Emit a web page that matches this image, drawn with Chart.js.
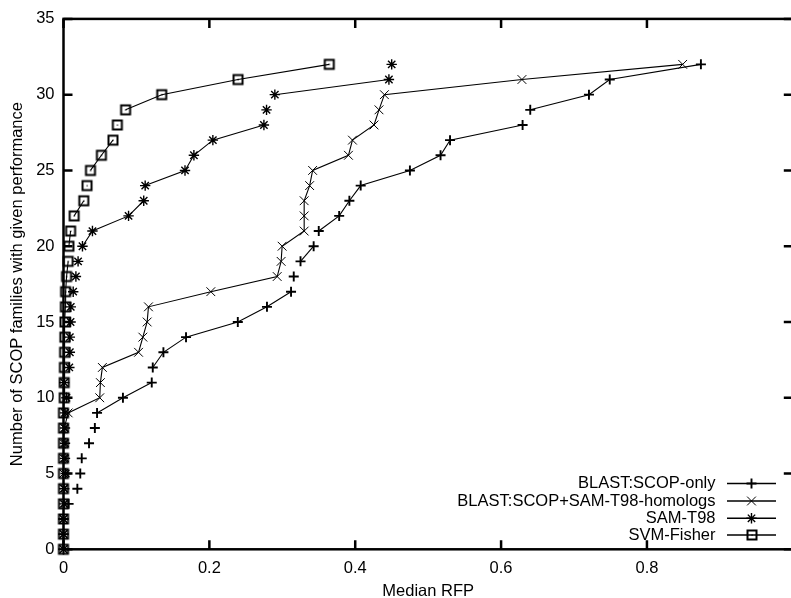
<!DOCTYPE html>
<html>
<head>
<meta charset="utf-8">
<script src="https://cdn.jsdelivr.net/npm/chart.js@4/dist/chart.umd.min.js"></script>
<style>
  html, body { margin: 0; padding: 0; background: #fff; overflow: hidden; width: 791px; height: 598px; }
  canvas { display: block; }
</style>
</head>
<body>
<canvas id="c" width="800" height="598"></canvas>
<script>
// ---------------- data ----------------
const families = [0,1,2,3,4,5,6,7,8,9,10,11,12,13,14,15,16,17,18,19,20,21,22,23,24,25,26,27,28,29,30,31,32];

const blastScopOnly = [0,0,0,0.007,0.019,0.023,0.025,0.035,0.043,0.046,0.0815,0.121,0.1224,0.137,0.168,0.239,0.279,0.312,0.3157,0.325,0.343,0.350,0.378,0.392,0.4075,0.475,0.517,0.530,0.6295,0.640,0.7205,0.749,0.874];
const blastScopSamHomologs = [0,0,0,0,0,0,0,0,0.001,0.0064,0.0497,0.0506,0.0533,0.1029,0.1088,0.1147,0.1165,0.202,0.293,0.2984,0.2998,0.330,0.330,0.330,0.3375,0.3416,0.3907,0.3962,0.4258,0.4326,0.440,0.6286,0.849];
const samT98 = [0,0,0,0.001,0.001,0.003,0.002,0.002,0.002,0.002,0.004,0.001,0.008,0.0087,0.0087,0.0097,0.010,0.0133,0.017,0.020,0.026,0.0397,0.0892,0.110,0.112,0.1666,0.1788,0.2048,0.2748,0.2784,0.2898,0.4462,0.450];
const svmFisher = [0,0,0,0,0,0,0,0,0,0,0.001,0.001,0.0012,0.0015,0.0018,0.002,0.0026,0.0029,0.0042,0.0064,0.0074,0.0097,0.0146,0.0278,0.0323,0.037,0.052,0.0678,0.0738,0.0851,0.1347,0.2393,0.3644];

// segments (start index) that are not joined by a line in the original
const blastScopOnlyGaps = [2,3,4,5,6,7,8,11,17,18,20,28];
const blastScopSamHomologsGaps = [];
const samT98Gaps = [0,1,2,3,4,5,6,7,8,9,10,11,12,13,14,15,16,17,18,19,23,28,29,31];
const svmFisherGaps = [19,21,23,24,27,28];

const seriesLabels = ['BLAST:SCOP-only','BLAST:SCOP+SAM-T98-homologs','SAM-T98','SVM-Fisher'];
const xTicks = [0, 0.2, 0.4, 0.6, 0.8];
const yTicks = [0, 5, 10, 15, 20, 25, 30, 35];
const xTitle = 'Median RFP';
const yTitle = 'Number of SCOP families with given performance';

// ---------------- styling ----------------
const FONT = { family: '"Liberation Sans", Arial, Helvetica, sans-serif', size: 16.5 };

function squareMarker() {
  const c = document.createElement('canvas');
  c.width = 14; c.height = 14;
  const g = c.getContext('2d');
  g.strokeStyle = '#000'; g.lineWidth = 2;
  g.strokeRect(2.5, 2.5, 9, 9);
  g.fillStyle = '#000';
  g.fillRect(6.5, 6.5, 1.2, 1.2);
  return c;
}
const sq = squareMarker();

function mk(values, gaps, label, style, radius, bw) {
  return {
    label: label,
    data: families.map((f, i) => ({ x: values[i], y: f })),
    showLine: true,
    borderColor: '#000',
    borderWidth: 1.1,
    pointStyle: style,
    pointRadius: radius,
    pointBorderWidth: bw,
    pointBorderColor: '#000',
    pointBackgroundColor: 'rgba(0,0,0,0)',
    pointHoverRadius: radius,
    clip: false,
    segment: {
      borderColor: c => gaps.includes(c.p0DataIndex) ? 'rgba(0,0,0,0)' : '#000'
    }
  };
}

const datasets = [
  mk(blastScopOnly, blastScopOnlyGaps, seriesLabels[0], 'cross', 5, 1.9),
  mk(blastScopSamHomologs, blastScopSamHomologsGaps, seriesLabels[1], 'crossRot', 6.2, 1),
  mk(samT98, samT98Gaps, seriesLabels[2], 'star', 5.2, 1.4),
  mk(svmFisher, svmFisherGaps, seriesLabels[3], sq, 6, 1)
];

function drawMarker(ctx, style, x, y, r, bw) {
  ctx.save();
  ctx.strokeStyle = '#000';
  ctx.lineWidth = bw;
  if (typeof style === 'object') {
    ctx.drawImage(style, Math.round(x) - style.width / 2, Math.round(y) - style.height / 2);
    ctx.restore();
    return;
  }
  ctx.beginPath();
  if (style === 'cross' || style === 'star') {
    ctx.moveTo(x - r, y); ctx.lineTo(x + r, y);
    ctx.moveTo(x, y - r); ctx.lineTo(x, y + r);
  }
  if (style === 'crossRot' || style === 'star') {
    const d = r * Math.SQRT1_2;
    ctx.moveTo(x - d, y - d); ctx.lineTo(x + d, y + d);
    ctx.moveTo(x - d, y + d); ctx.lineTo(x + d, y - d);
  }
  ctx.stroke();
  ctx.restore();
}

const framePlugin = {
  id: 'frame',
  afterDatasetsDraw(chart) {
    const { ctx, chartArea: a, scales } = chart;
    ctx.save();
    ctx.strokeStyle = '#000';
    ctx.lineWidth = 2.5;
    ctx.strokeRect(a.left, a.top, a.right - a.left, a.bottom - a.top);
    const tl = 9;
    ctx.beginPath();
    xTicks.forEach(v => {
      const px = scales.x.getPixelForValue(v);
      ctx.moveTo(px, a.bottom); ctx.lineTo(px, a.bottom - tl);
      ctx.moveTo(px, a.top); ctx.lineTo(px, a.top + tl);
    });
    yTicks.forEach(v => {
      const py = scales.y.getPixelForValue(v);
      ctx.moveTo(a.left, py); ctx.lineTo(a.left + tl, py);
      ctx.moveTo(a.right, py); ctx.lineTo(a.right - tl, py);
    });
    ctx.stroke();
    ctx.restore();
  }
};

const legendPlugin = {
  id: 'innerLegend',
  afterDraw(chart) {
    const { ctx } = chart;
    const rows = [483.5, 501, 518.3, 535];
    const textRight = 715.5, lineL = 727, lineR = 776, mid = 751.5;
    ctx.save();
    ctx.font = FONT.size + 'px ' + FONT.family;
    ctx.fillStyle = '#000';
    ctx.textAlign = 'right';
    ctx.textBaseline = 'middle';
    chart.data.datasets.forEach((ds, i) => {
      const y = rows[i];
      ctx.fillText(ds.label, textRight, y);
      ctx.strokeStyle = '#000';
      ctx.lineWidth = 1.4;
      ctx.beginPath();
      ctx.moveTo(lineL, y); ctx.lineTo(lineR, y);
      ctx.stroke();
      drawMarker(ctx, ds.pointStyle, mid, y, ds.pointRadius, ds.pointBorderWidth);
    });
    ctx.restore();
  }
};

new Chart(document.getElementById('c').getContext('2d'), {
  type: 'scatter',
  data: { datasets: datasets },
  options: {
    responsive: false,
    animation: false,
    events: [],
    layout: { padding: { left: 0, right: 3.5, top: 17.3, bottom: 0 } },
    plugins: { legend: { display: false }, tooltip: { enabled: false } },
    scales: {
      x: {
        type: 'linear', min: 0, max: 1,
        afterFit: s => { s.height = 48.7; },
        afterBuildTicks: s => { s.ticks = xTicks.map(v => ({ value: v })); },
        grid: { display: false, drawTicks: false },
        border: { display: false },
        ticks: { padding: 9, color: '#000', font: FONT, maxRotation: 0, callback: v => String(v) },
        title: { display: true, text: xTitle, color: '#000', font: Object.assign({ lineHeight: 0.8 }, FONT), padding: { top: 0, bottom: 0 } }
      },
      y: {
        type: 'linear', min: 0, max: 35,
        afterFit: s => { s.width = 63.5; },
        afterBuildTicks: s => { s.ticks = yTicks.map(v => ({ value: v })); },
        grid: { display: false, drawTicks: false },
        border: { display: false },
        ticks: { padding: 9, color: '#000', font: FONT, callback: v => String(v) },
        title: { display: true, text: yTitle, color: '#000', font: FONT, padding: { top: 7.3, bottom: 0 } }
      }
    }
  },
  plugins: [framePlugin, legendPlugin]
});
</script>
</body>
</html>
